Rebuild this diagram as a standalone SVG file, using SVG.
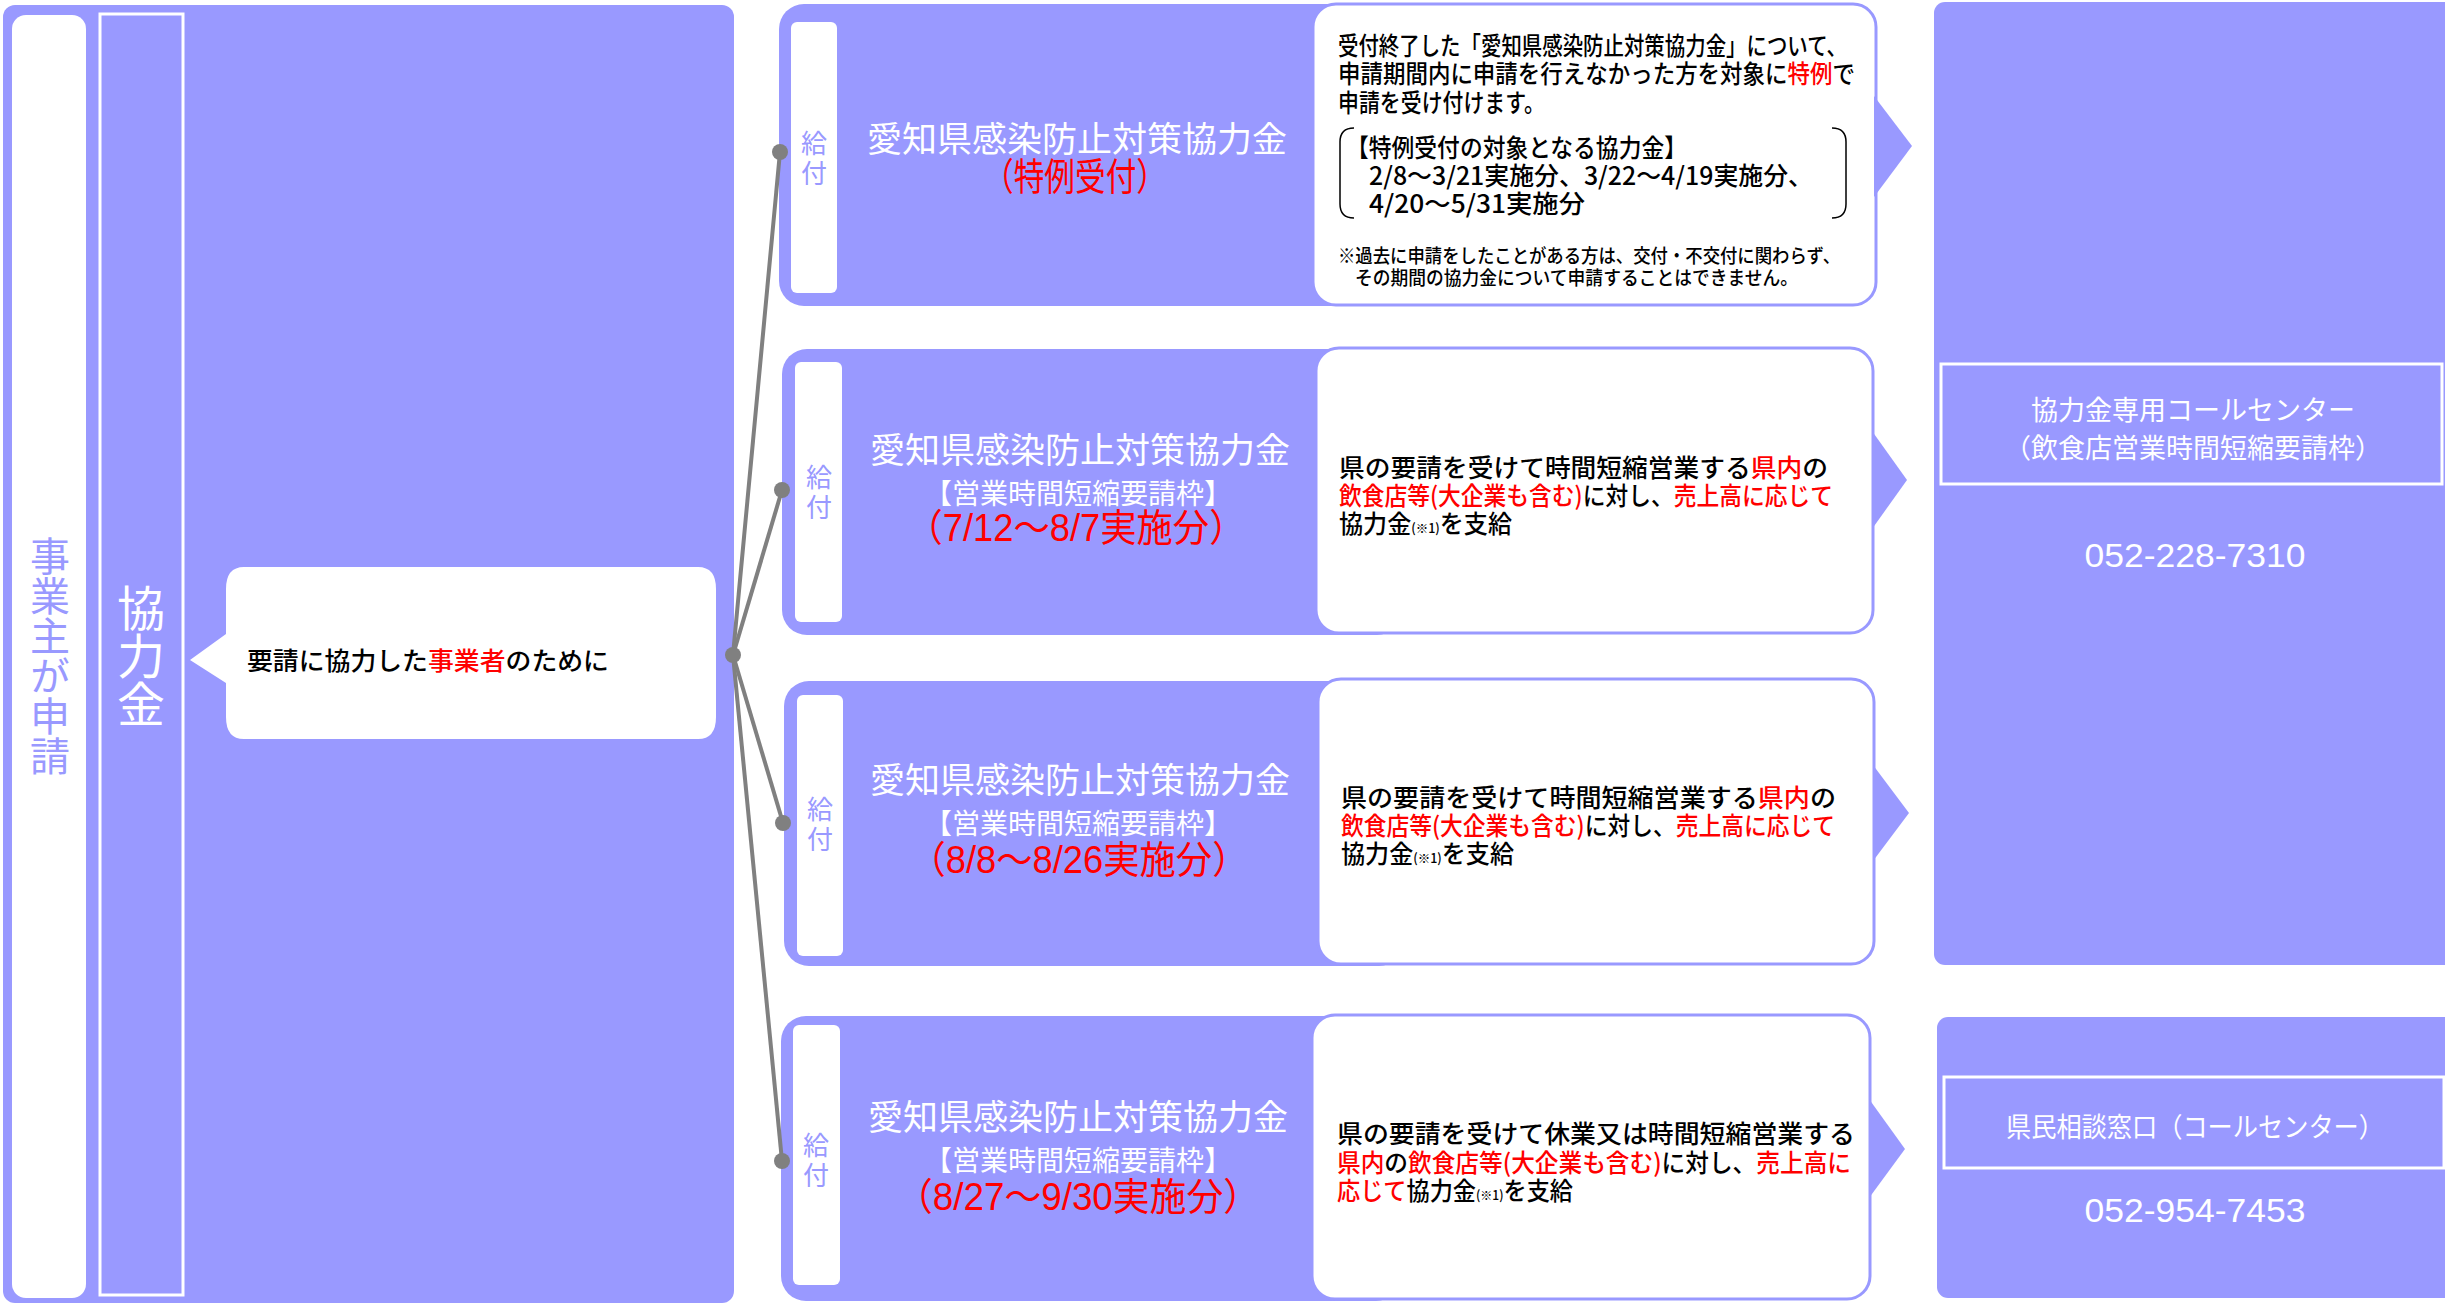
<svg xmlns="http://www.w3.org/2000/svg" width="2445" height="1305" viewBox="0 0 2445 1305">
<style>
.pf{fill:#9999ff}
.wt{fill:#ffffff}
.jp{font-family:'Noto Sans CJK JP','Liberation Sans',sans-serif}
.blk{fill:#000000}
.red{fill:#ff0000}
.ttl{font-family:'Noto Sans CJK JP','Liberation Sans',sans-serif;fill:#ffffff;font-size:35px;text-anchor:middle}
.sub{font-family:'Noto Sans CJK JP','Liberation Sans',sans-serif;fill:#ffffff;font-size:28px;text-anchor:middle}
.per{font-family:'Liberation Sans','Noto Sans CJK JP',sans-serif;fill:#ff0000;font-size:38px;text-anchor:middle}
.body{font-family:'Noto Sans CJK JP','Liberation Sans',sans-serif;fill:#000000;font-size:25px;font-weight:500}
.kyu{font-family:'Noto Sans CJK JP',sans-serif;fill:#9999ff;font-size:26px;text-anchor:middle}
.wbox{fill:#ffffff;stroke:#9999ff;stroke-width:3}
.frame{fill:none;stroke:#ffffff;stroke-width:3}
.ctr{font-family:'Noto Sans CJK JP','Liberation Sans',sans-serif;fill:#ffffff;font-size:27px;text-anchor:middle}
.tel{font-family:'Liberation Sans',sans-serif;fill:#ffffff;font-size:33px;text-anchor:middle}
.conn{stroke:#808080;stroke-width:4;fill:none}
.dot{fill:#808080}
.sm{font-size:13px}
</style>

<g id="node-jigyonushi">
  <rect class="pf" x="3" y="5" width="731" height="1298" rx="12"/>
  <rect class="wt" x="12" y="15" width="74" height="1283" rx="14"/>
  <text class="jp" x="50" y="656" font-size="40" fill="#9999ff" text-anchor="middle" style="writing-mode:vertical-rl">事業主が申請</text>
  <rect class="frame" x="100" y="14" width="83" height="1281"/>
  <text class="jp" x="141" y="656" font-size="48" fill="#ffffff" text-anchor="middle" style="writing-mode:vertical-rl">協力金</text>
  <path class="wt" d="M244,567 H698 Q716,567 716,589 V717 Q716,739 698,739 H244 Q226,739 226,717 V683 L190,660 L226,634 V589 Q226,567 244,567 Z"/>
  <text class="body" x="247" y="670" font-size="28" textLength="362" lengthAdjust="spacingAndGlyphs">要請に協力した<tspan class="red">事業者</tspan>のために</text>
</g>

<g id="node-row1">
  <rect class="pf" x="779" y="4" width="620" height="302" rx="25"/>
  <rect class="wt" x="791" y="22" width="46" height="271" rx="6"/>
  <text class="kyu" x="814" y="153">給</text>
  <text class="kyu" x="814" y="183">付</text>
  <text class="ttl" x="1077" y="152">愛知県感染防止対策協力金</text>
  <text class="per" x="1075" y="190" font-size="33" textLength="184" lengthAdjust="spacingAndGlyphs" font-family="'Noto Sans CJK JP',sans-serif">（特例受付）</text>
  <rect class="wbox" x="1313" y="4" width="563" height="301" rx="23"/>
  <g class="body" font-size="22">
    <text x="1338" y="55" textLength="509" lengthAdjust="spacingAndGlyphs">受付終了した「愛知県感染防止対策協力金」について、</text>
    <text x="1338" y="83" textLength="517" lengthAdjust="spacingAndGlyphs">申請期間内に申請を行えなかった方を対象に<tspan class="red">特例</tspan>で</text>
    <text x="1338" y="112" textLength="207" lengthAdjust="spacingAndGlyphs">申請を受け付けます。</text>
    <text x="1346" y="157" textLength="341" lengthAdjust="spacingAndGlyphs">【特例受付の対象となる協力金】</text>
    <text x="1369" y="185" textLength="444" lengthAdjust="spacingAndGlyphs">2/8～3/21実施分、3/22～4/19実施分、</text>
    <text x="1369" y="213" textLength="216" lengthAdjust="spacingAndGlyphs">4/20～5/31実施分</text>
    <text x="1338" y="263" font-size="19" textLength="502" lengthAdjust="spacingAndGlyphs">※過去に申請をしたことがある方は、交付・不交付に関わらず、</text>
    <text x="1355" y="285" font-size="19" textLength="443" lengthAdjust="spacingAndGlyphs">その期間の協力金について申請することはできません。</text>
  </g>
  <path d="M1354,128 Q1340,128 1340,142 V204 Q1340,218 1354,218 M1832,128 Q1846,128 1846,142 V204 Q1846,218 1832,218" fill="none" stroke="#000000" stroke-width="1.5"/>
  <polygon class="pf" points="1874,96 1912,146 1874,197"/>
</g>

<g id="node-row2">
  <rect class="pf" x="782" y="349" width="620" height="286" rx="25"/>
  <rect class="wt" x="795" y="362" width="47" height="260" rx="6"/>
  <text class="kyu" x="819" y="487">給</text>
  <text class="kyu" x="819" y="517">付</text>
  <text class="ttl" x="1080" y="463">愛知県感染防止対策協力金</text>
  <text class="sub" x="1078" y="504">【営業時間短縮要請枠】</text>
  <text class="per" x="1076" y="541" textLength="339" lengthAdjust="spacingAndGlyphs">（7/12～8/7実施分）</text>
  <rect class="wbox" x="1316" y="348" width="557" height="285" rx="23"/>
  <text class="body" x="1339" y="477" textLength="489" lengthAdjust="spacingAndGlyphs">県の要請を受けて時間短縮営業する<tspan class="red">県内</tspan>の</text>
  <text class="body" x="1339" y="505" textLength="494" lengthAdjust="spacingAndGlyphs"><tspan class="red">飲食店等(大企業も含む)</tspan>に対し、<tspan class="red">売上高に応じて</tspan></text>
  <text class="body" x="1339" y="533" textLength="173" lengthAdjust="spacingAndGlyphs">協力金<tspan class="sm">(※1)</tspan>を支給</text>
  <polygon class="pf" points="1872,431 1907,480 1872,529"/>
</g>

<g id="node-row3">
  <rect class="pf" x="784" y="681" width="620" height="285" rx="25"/>
  <rect class="wt" x="797" y="695" width="46" height="261" rx="6"/>
  <text class="kyu" x="820" y="819">給</text>
  <text class="kyu" x="820" y="849">付</text>
  <text class="ttl" x="1080" y="793">愛知県感染防止対策協力金</text>
  <text class="sub" x="1078" y="834">【営業時間短縮要請枠】</text>
  <text class="per" x="1079" y="873" textLength="339" lengthAdjust="spacingAndGlyphs">（8/8～8/26実施分）</text>
  <rect class="wbox" x="1318" y="679" width="556" height="285" rx="23"/>
  <text class="body" x="1341" y="807" textLength="495" lengthAdjust="spacingAndGlyphs">県の要請を受けて時間短縮営業する<tspan class="red">県内</tspan>の</text>
  <text class="body" x="1341" y="835" textLength="494" lengthAdjust="spacingAndGlyphs"><tspan class="red">飲食店等(大企業も含む)</tspan>に対し、<tspan class="red">売上高に応じて</tspan></text>
  <text class="body" x="1341" y="863" textLength="173" lengthAdjust="spacingAndGlyphs">協力金<tspan class="sm">(※1)</tspan>を支給</text>
  <polygon class="pf" points="1873,765 1909,813 1873,861"/>
</g>

<g id="node-row4">
  <rect class="pf" x="781" y="1016" width="620" height="285" rx="25"/>
  <rect class="wt" x="793" y="1025" width="47" height="260" rx="6"/>
  <text class="kyu" x="816" y="1155">給</text>
  <text class="kyu" x="816" y="1185">付</text>
  <text class="ttl" x="1078" y="1130">愛知県感染防止対策協力金</text>
  <text class="sub" x="1078" y="1171">【営業時間短縮要請枠】</text>
  <text class="per" x="1078" y="1210" textLength="364" lengthAdjust="spacingAndGlyphs">（8/27～9/30実施分）</text>
  <rect class="wbox" x="1312" y="1015" width="558" height="284" rx="23"/>
  <text class="body" x="1337" y="1143" textLength="518" lengthAdjust="spacingAndGlyphs">県の要請を受けて休業又は時間短縮営業する</text>
  <text class="body" x="1337" y="1172" textLength="514" lengthAdjust="spacingAndGlyphs"><tspan class="red">県内</tspan>の<tspan class="red">飲食店等(大企業も含む)</tspan>に対し、<tspan class="red">売上高に</tspan></text>
  <text class="body" x="1337" y="1200" textLength="236" lengthAdjust="spacingAndGlyphs"><tspan class="red">応じて</tspan>協力金<tspan class="sm">(※1)</tspan>を支給</text>
  <polygon class="pf" points="1869,1099 1905,1149 1869,1198"/>
</g>

<g id="node-callcenter">
  <rect class="pf" x="1934" y="2" width="530" height="963" rx="11"/>
  <rect class="frame" x="1941" y="364" width="501" height="120"/>
  <text class="ctr" x="2193" y="420">協力金専用コールセンター</text>
  <text class="ctr" x="2193" y="458">（飲食店営業時間短縮要請枠）</text>
  <text class="tel" x="2195" y="567" textLength="221" lengthAdjust="spacingAndGlyphs">052-228-7310</text>
</g>

<g id="node-kenmin">
  <rect class="pf" x="1937" y="1017" width="530" height="281" rx="11"/>
  <rect class="frame" x="1944" y="1077" width="500" height="91"/>
  <text class="ctr" x="2195" y="1137" textLength="378" lengthAdjust="spacingAndGlyphs">県民相談窓口（コールセンター）</text>
  <text class="tel" x="2195" y="1222" textLength="221" lengthAdjust="spacingAndGlyphs">052-954-7453</text>
</g>

<g id="connectors">
  <line class="conn" x1="733" y1="655" x2="780" y2="152"/>
  <line class="conn" x1="733" y1="655" x2="782" y2="490"/>
  <line class="conn" x1="733" y1="655" x2="783" y2="823"/>
  <line class="conn" x1="733" y1="655" x2="782" y2="1161"/>
  <circle class="dot" cx="733" cy="655" r="8"/>
  <circle class="dot" cx="780" cy="152" r="8"/>
  <circle class="dot" cx="782" cy="490" r="8"/>
  <circle class="dot" cx="783" cy="823" r="8"/>
  <circle class="dot" cx="782" cy="1161" r="8"/>
</g>
</svg>
